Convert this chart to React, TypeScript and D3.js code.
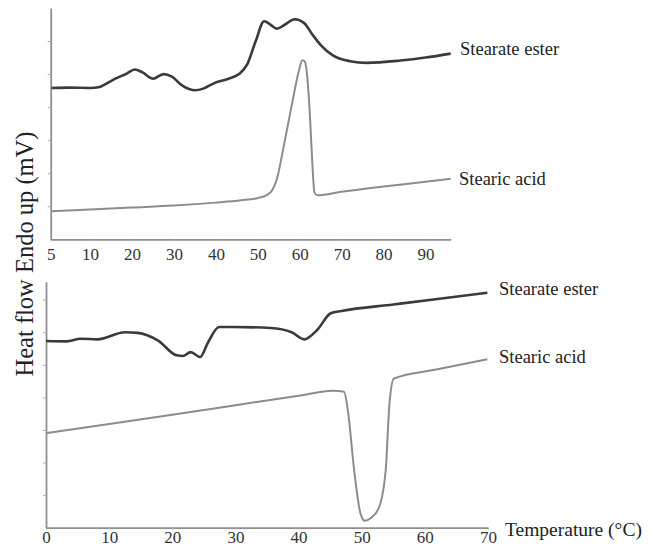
import React, { useEffect, useRef } from 'react';
import * as d3 from 'd3';

// heating scan (top panel): temperature in °C, heat flow in arbitrary units
const heatEsterT = [0.8, 5, 10, 12, 14, 16, 18.5, 20.7, 22.5, 25, 27.5, 29.5, 32, 35, 37, 39.5, 43, 45.5, 47.5, 49.5, 51.5, 53, 54.5, 56.5, 58.8, 61, 63, 65, 68, 72, 76, 84, 90, 96];
const heatEsterV = [4.58, 4.59, 4.58, 4.6, 4.72, 4.86, 5.0, 5.14, 5.05, 4.86, 5.0, 4.92, 4.65, 4.51, 4.56, 4.72, 4.86, 5.0, 5.3, 6.0, 6.6, 6.5, 6.37, 6.5, 6.66, 6.55, 6.2, 5.88, 5.56, 5.39, 5.34, 5.41, 5.5, 5.62];
const heatAcidT = [0.8, 10, 20, 30, 40, 46, 50, 52, 53.5, 54.5, 56, 58, 59.8, 60.6, 61.2, 61.8, 62.4, 63, 63.5, 64.2, 70, 80, 90, 96];
const heatAcidV = [0.85, 0.9, 0.96, 1.02, 1.11, 1.18, 1.25, 1.33, 1.5, 1.8, 2.7, 4.0, 5.1, 5.42, 5.38, 4.9, 3.8, 2.3, 1.42, 1.33, 1.44, 1.6, 1.74, 1.83];

// cooling scan (bottom panel)
const coolEsterT = [0, 3.3, 5.5, 8.2, 12.5, 14.5, 17.7, 20.7, 21.7, 22.9, 24.4, 25.7, 27.4, 29.6, 35.6, 38.9, 40.9, 42.9, 45.1, 46.8, 55, 62, 69.9];
const coolEsterV = [5.73, 5.72, 5.8, 5.78, 6.0, 5.98, 5.75, 5.29, 5.27, 5.39, 5.24, 5.7, 6.16, 6.16, 6.13, 6.0, 5.78, 6.06, 6.58, 6.65, 6.85, 7.02, 7.21];
const coolAcidT = [0, 10, 20, 30, 40, 45.5, 47.2, 47.8, 48.8, 49.8, 50.5, 51.4, 52.7, 53.8, 54.4, 55.1, 62, 69.9];
const coolAcidV = [2.9, 3.18, 3.47, 3.76, 4.05, 4.2, 4.17, 3.61, 1.77, 0.44, 0.21, 0.29, 0.6, 1.77, 3.82, 4.58, 4.86, 5.17];

const topTicks = [0.6, 10, 20, 30, 40, 50, 60, 70, 80, 90];
const topTickLabels = ['5', '10', '20', '30', '40', '50', '60', '70', '80', '90'];
const bottomTicks = [0, 10, 20, 30, 40, 50, 60, 70];
const topYTicks = [1, 2, 3, 4, 5, 6];
const bottomYTicks = [1, 2, 3, 4, 5, 6, 7];

const seriesNames = ['Stearate ester', 'Stearic acid'];

const FONT = '"Liberation Serif", "Times New Roman", serif';

const App: React.FC = () => {
    const svgRef = useRef<SVGSVGElement | null>(null);

    useEffect(() => {
        const svg = d3.select(svgRef.current);
        svg.selectAll('*').remove();

        const xTop = d3.scaleLinear().domain([0.6, 96]).range([50.7, 450.7]);
        const yTop = d3.scaleLinear().domain([0, 7]).range([239.3, 8]);
        const xBot = d3.scaleLinear().domain([0, 70]).range([46, 488]);
        const yBot = d3.scaleLinear().domain([0, 7.55]).range([527.7, 281.7]);

        const styleAxis = (g: d3.Selection<SVGGElement, unknown, null, undefined>) => {
            g.select('.domain').attr('stroke', '#8e8e8e').attr('stroke-width', 1.8);
            g.selectAll('.tick line').attr('stroke', '#b0b0b0').attr('stroke-width', 1);
            g.selectAll('.tick text')
                .attr('fill', '#333')
                .style('font-family', FONT)
                .style('font-size', '17px');
        };

        // top panel axes
        const gxTop = svg.append('g')
            .attr('transform', `translate(0,${yTop(0)})`)
            .call(d3.axisBottom(xTop).tickValues(topTicks)
                .tickFormat((_, i) => topTickLabels[i]).tickSizeInner(2).tickSizeOuter(0));
        styleAxis(gxTop);
        gxTop.selectAll('.tick text').attr('y', 20.7).attr('dy', 0);

        const gyTop = svg.append('g')
            .attr('transform', `translate(${xTop(0.6)},0)`)
            .call(d3.axisLeft(yTop).tickValues(topYTicks).tickFormat(() => '').tickSizeInner(3).tickSizeOuter(0));
        styleAxis(gyTop);

        // bottom panel axes
        const gxBot = svg.append('g')
            .attr('transform', `translate(0,${yBot(0)})`)
            .call(d3.axisBottom(xBot).tickValues(bottomTicks).tickFormat(d3.format('d')).tickSizeInner(2).tickSizeOuter(0));
        styleAxis(gxBot);
        gxBot.selectAll('.tick text').attr('y', 15.6).attr('dy', 0);

        const gyBot = svg.append('g')
            .attr('transform', `translate(${xBot(0)},0)`)
            .call(d3.axisLeft(yBot).tickValues(bottomYTicks).tickFormat(() => '').tickSizeInner(3).tickSizeOuter(0));
        styleAxis(gyBot);

        // curves
        const draw = (
            ts: number[], vs: number[],
            x: d3.ScaleLinear<number, number>, y: d3.ScaleLinear<number, number>,
            color: string, width: number
        ) => {
            const line = d3.line<number>()
                .x((_, i) => x(ts[i]))
                .y(v => y(v))
                .curve(d3.curveMonotoneX);
            svg.append('path')
                .attr('d', line(vs))
                .attr('fill', 'none')
                .attr('stroke', color)
                .attr('stroke-width', width)
                .attr('stroke-linejoin', 'round');
        };

        const esterColor = '#3a3a3a';
        const acidColor = '#8c8c8c';
        draw(heatEsterT, heatEsterV, xTop, yTop, esterColor, 2.6);
        draw(heatAcidT, heatAcidV, xTop, yTop, acidColor, 2);
        draw(coolEsterT, coolEsterV, xBot, yBot, esterColor, 2.6);
        draw(coolAcidT, coolAcidV, xBot, yBot, acidColor, 2);

        // series labels
        const label = (txt: string, x: number, y: number) => {
            svg.append('text')
                .attr('x', x).attr('y', y)
                .attr('fill', '#222')
                .style('font-family', FONT)
                .style('font-size', '18.5px')
                .text(txt);
        };
        label(seriesNames[0], 460, 55);
        label(seriesNames[1], 459, 185);
        label(seriesNames[0], 499, 295);
        label(seriesNames[1], 499, 363);

        // axis titles
        svg.append('text')
            .attr('x', 505).attr('y', 535.7)
            .attr('fill', '#222')
            .style('font-family', FONT)
            .style('font-size', '19.5px')
            .text('Temperature (\u00B0C)');

        svg.append('text')
            .attr('transform', 'translate(33,254) rotate(-90)')
            .attr('text-anchor', 'middle')
            .attr('fill', '#222')
            .style('font-family', FONT)
            .style('font-size', '24.5px')
            .text('Heat flow Endo up (mV)');
    }, []);

    return (
        <svg
            ref={svgRef}
            width={652}
            height={546}
            style={{ position: 'absolute', left: 0, top: 0, background: '#fff' }}
        />
    );
};

export default App;
